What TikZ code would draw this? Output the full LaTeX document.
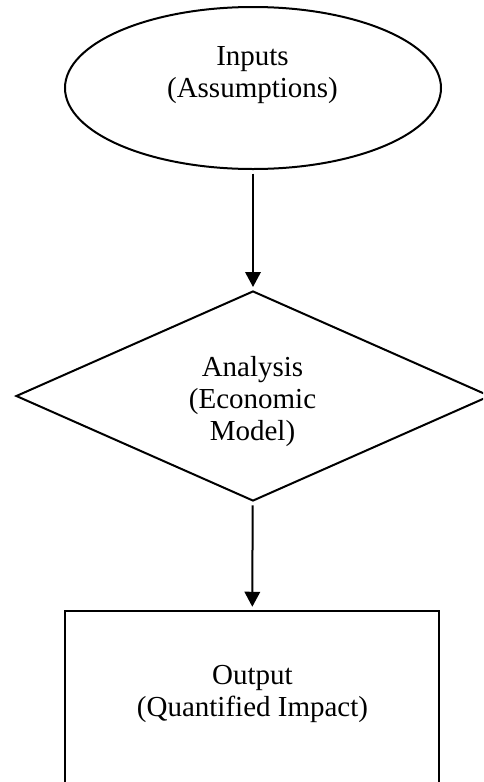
\documentclass[tikz,border=0pt]{standalone}
\usepackage{fontspec}
\setmainfont{Liberation Serif}
\usepackage{tikz}
\usetikzlibrary{arrows.meta}
\usetikzlibrary{shapes.geometric}

\begin{document}
\begin{tikzpicture}[line width=0.04cm, >={Triangle[length=0.3cm, width=0.31cm]},
    txt/.style = {align=center, font=\fontsize{16.5}{18.2}\selectfont},
    start/.style = {draw, ellipse, minimum width=7.52cm, minimum height=3.24cm},
    decision/.style = {draw, diamond, minimum width=9.48cm, minimum height=4.2cm},
    result/.style = {draw, rectangle, minimum width=7.48cm, minimum height=3.7cm, line width=0.05cm},
    link/.style = {->, shorten <=0.07cm, shorten >=0.06cm}]

    \useasboundingbox (0,0) rectangle (9.66,-15.64);
    \clip (0,0) rectangle (9.66,-15.64);

    \node [start] (inputs) at (5.06, -1.76) {};
    \node [decision] (analysis) at (5.06, -7.92) {};
    \node [result] (output) at (5.04, -14.07) {};

    \node [txt] (inputstext) at (5.05, -1.51) {Inputs\\(Assumptions)};
    \node [txt] (analysistext) at (5.05, -8.03) {Analysis\\(Economic\\Model)};
    \node [txt] (outputtext) at (5.05, -13.87) {Output\\(Quantified Impact)};

    \draw[link] (inputs) to (analysis);
    \draw[link] (analysis) to (output);

\end{tikzpicture}
\end{document}
